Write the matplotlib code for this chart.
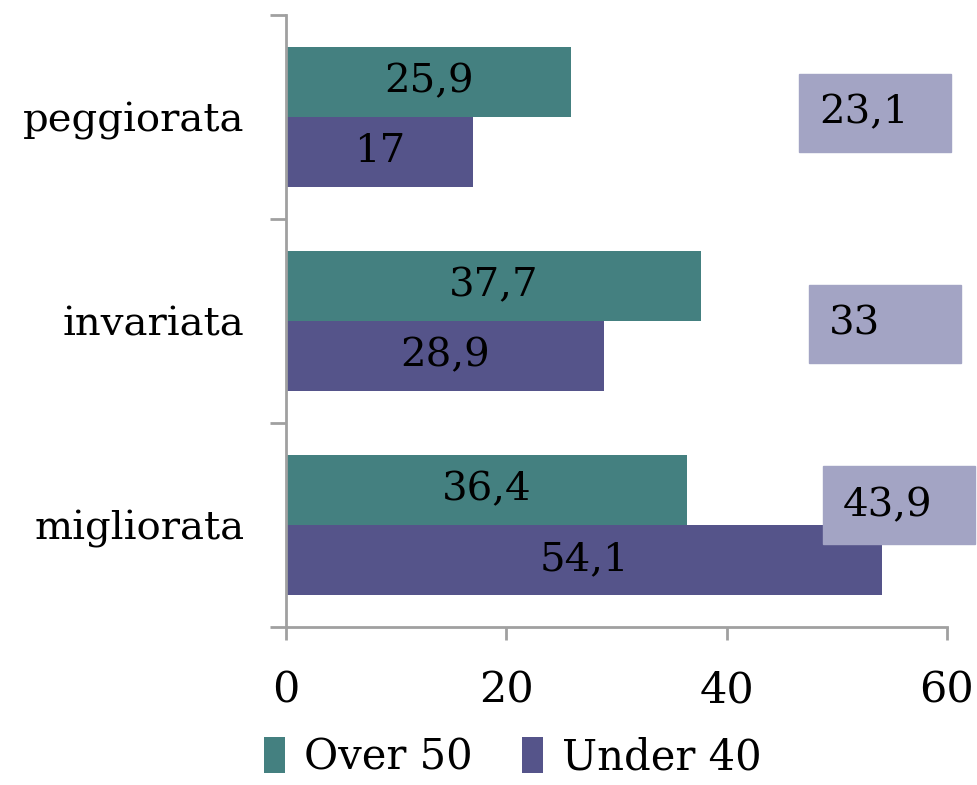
import numpy as np
import matplotlib
matplotlib.use("Agg")
import matplotlib.pyplot as plt
from matplotlib.patches import Rectangle

# data (bottom -> top, as drawn)
categories = ["migliorata", "invariata", "peggiorata"]
over_50 = [36.4, 37.7, 25.9]
under_40 = [54.1, 28.9, 17.0]
# third series: only its labels are visible in the original
middle_vals = [43.9, 33.0, 23.1]

def fmt(v):
    s = f"{v:.1f}".replace(".", ",")
    return s[:-2] if s.endswith(",0") else s

col_over = "#448080"
col_under = "#55548A"
col_box = "#A3A4C4"
col_axis = "#A0A0A0"

plt.rcParams["font.family"] = ["DejaVu Serif"]
fig = plt.figure(figsize=(9.78, 7.85), dpi=100)
ax = fig.add_axes([286 / 978, 1 - 627 / 785, 661 / 978, 612 / 785])

y = np.arange(len(categories))
h = 0.343
b1 = ax.barh(y + h / 2, over_50, height=h, color=col_over, label="Over 50")
b2 = ax.barh(y - h / 2, under_40, height=h, color=col_under, label="Under 40")

for bars, vals in [(b1, over_50), (b2, under_40)]:
    for r, v in zip(bars, vals):
        ax.text(r.get_x() + r.get_width() / 2, r.get_y() + r.get_height() / 2,
                fmt(v), ha="center", va="center", fontsize=29, color="black")

# floating label boxes for the hidden series
box_left = [48.7, 47.5, 46.6]
box_dy = [0.096, -0.015, 0.02]
box_w, box_h = 13.8, 0.382
for yi, v, bx, dy in zip(y, middle_vals, box_left, box_dy):
    ax.add_patch(Rectangle((bx, yi + dy - box_h / 2), box_w, box_h,
                           color=col_box, clip_on=False, zorder=3))
    ax.text(bx + 1.8, yi + dy, fmt(v), ha="left", va="center",
            fontsize=29, color="black", zorder=4, clip_on=False)

ax.set_xlim(0, 60)
ax.set_ylim(-0.5, 2.5)
ax.set_xticks([0, 20, 40, 60])
ax.set_yticks(y)
ax.set_yticklabels(categories)
ax.set_yticks(np.arange(-0.5, 3, 1), minor=True)
ax.tick_params(axis="y", which="major", length=0, pad=30, labelsize=29)
ax.tick_params(axis="y", which="minor", length=11.5, width=2, color=col_axis)
ax.tick_params(axis="x", length=9.5, width=2, color=col_axis, pad=21, labelsize=31)

for s in ["top", "right"]:
    ax.spines[s].set_visible(False)
for s in ["left", "bottom"]:
    ax.spines[s].set_color(col_axis)
    ax.spines[s].set_linewidth(2)

fig.legend(handles=[b1, b2], loc="center left",
           bbox_to_anchor=(264 / 978, 1 - 757 / 785), ncol=2, frameon=False,
           fontsize=30, handlelength=0.5, handleheight=0.95,
           handletextpad=0.45, columnspacing=1.2, borderpad=0, borderaxespad=0)

fig.savefig("out.png", dpi=100)
